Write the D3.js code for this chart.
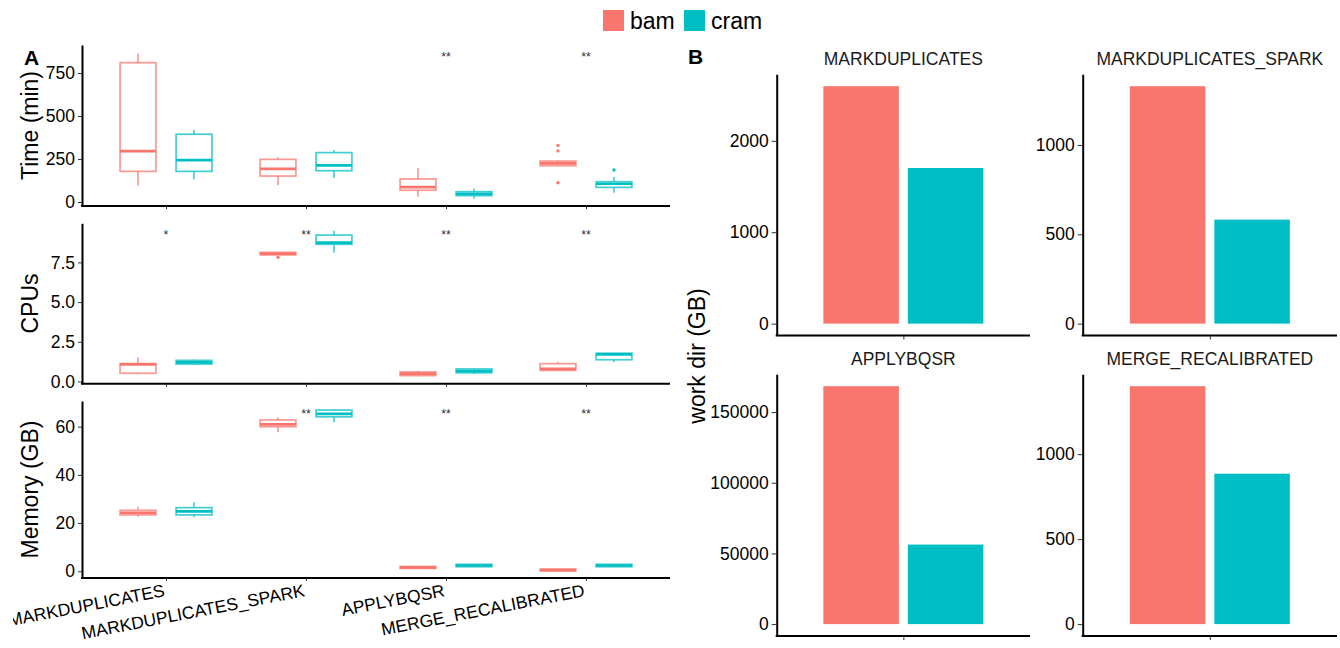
<!DOCTYPE html>
<html>
<head>
<meta charset="utf-8">
<script src="https://cdn.jsdelivr.net/npm/d3@7"></script>
<style>
  body { margin: 0; background: #fff; }
  svg { font-family: "Liberation Sans", Arial, Helvetica, sans-serif; }
  .axis .domain { stroke: #000; stroke-width: 2px; }
  .axis .tick line { stroke: #333; stroke-width: 1px; }
  .axis .tick text { fill: #000; font-size: 17.5px; }
</style>
</head>
<body>
<div id="chart"></div>
<script>
// groups and colours (ggplot default hues)
var groups = ["bam", "cram"];
var groupColors = ["#F8766D", "#00BFC4"];
var steps = ["MARKDUPLICATES", "MARKDUPLICATES_SPARK", "APPLYBQSR", "MERGE_RECALIBRATED"];

// box stats: [lower whisker, Q1, median, Q3, upper whisker]
var timeBam = [[95, 178, 296, 810, 864], [97, 151, 192, 248, 260], [31, 68, 87, 134, 198], [207, 211, 225, 238, 242]];
var timeCram = [[132, 178, 244, 394, 419], [140, 182, 213, 287, 302], [19, 37, 47, 60, 77], [54, 85, 106, 118, 145]];
var timeBamOutliers = [[], [], [], [112, 297, 329]];
var timeCramOutliers = [[], [], [], [186]];
var timeStars = ["", "", "**", "**"];
var timeTicks = [0, 250, 500, 750];

var cpuBam = [[0.45, 0.52, 1.08, 1.13, 1.52], [7.97, 7.97, 8.05, 8.13, 8.15], [0.33, 0.37, 0.5, 0.6, 0.68], [0.66, 0.7, 0.8, 1.12, 1.25]];
var cpuCram = [[1.05, 1.1, 1.2, 1.33, 1.38], [8.11, 8.64, 8.74, 9.22, 9.5], [0.47, 0.55, 0.65, 0.79, 0.8], [1.21, 1.37, 1.71, 1.78, 1.8]];
var cpuBamOutliers = [[], [7.82], [], []];
var cpuCramOutliers = [[], [], [], []];
var cpuStars = ["*", "**", "**", "**"];
var cpuTicks = [0, 2.5, 5, 7.5];

var memBam = [[22.7, 23.4, 24.3, 25.3, 26.8], [57.7, 60.0, 61.0, 62.8, 63.9], [1.1, 1.2, 1.6, 2.0, 2.1], [0.1, 0.2, 0.5, 0.9, 1.0]];
var memCram = [[22.4, 23.4, 24.9, 26.4, 28.6], [61.8, 64.1, 65.3, 66.9, 67.3], [1.8, 1.9, 2.4, 2.9, 3.0], [1.8, 1.9, 2.4, 2.9, 3.0]];
var memBamOutliers = [[], [], [], []];
var memCramOutliers = [[], [], [], []];
var memStars = ["", "**", "**", "**"];
var memTicks = [0, 20, 40, 60];

// panel B: work dir size (GB)
var workBam = [2598, 1329, 168300, 1400];
var workCram = [1703, 582, 56260, 885];
var workTicks = [[0, 1000, 2000], [0, 500, 1000], [0, 50000, 100000, 150000], [0, 500, 1000]];

var W = 1340, H = 648;

var svg = d3.select("#chart").append("svg")
  .attr("width", W)
  .attr("height", H);

// ---------- legend ----------
var legend = svg.append("g").attr("class", "legend");
var legendX = [603, 684];
groups.forEach(function (g, i) {
  legend.append("rect")
    .attr("x", legendX[i]).attr("y", 10)
    .attr("width", 21).attr("height", 21)
    .attr("fill", groupColors[i]);
  legend.append("text")
    .attr("x", legendX[i] + 27).attr("y", 28.5)
    .attr("font-size", 23)
    .text(g);
});

// ---------- panel A: boxplots ----------
var aLeft = 82, aRight = 670;

svg.append("clipPath").attr("id", "clipA")
  .append("rect").attr("x", 13).attr("y", 0).attr("width", 670).attr("height", H);

var panelA = svg.append("g").attr("clip-path", "url(#clipA)");

var x = d3.scalePoint()
  .domain(steps)
  .range([aLeft, aRight])
  .padding(0.6);

var dodge = d3.scaleBand()
  .domain(groups)
  .range([-56, 56]);

var boxW = dodge.bandwidth() * 0.64;

var panels = [
  { title: "Time (min)", bam: timeBam, cram: timeCram, outBam: timeBamOutliers, outCram: timeCramOutliers,
    stars: timeStars, starY: 855, ticks: timeTicks, top: 45, bottom: 206, domain: [-23.3, 912.8], labels: false },
  { title: "CPUs", bam: cpuBam, cram: cpuCram, outBam: cpuBamOutliers, outCram: cpuCramOutliers,
    stars: cpuStars, starY: 9.37, ticks: cpuTicks, top: 223.3, bottom: 383.7, domain: [-0.139, 9.962], labels: false },
  { title: "Memory (GB)", bam: memBam, cram: memCram, outBam: memBamOutliers, outCram: memCramOutliers,
    stars: memStars, starY: 66.5, ticks: memTicks, top: 401, bottom: 578, domain: [-2.78, 70.66], labels: true }
];

panels.forEach(function (p) {
  var y = d3.scaleLinear().domain(p.domain).range([p.bottom, p.top]);

  var rows = [];
  steps.forEach(function (s, i) {
    rows.push({ step: s, group: "bam", color: groupColors[0], s: p.bam[i], out: p.outBam[i] });
    rows.push({ step: s, group: "cram", color: groupColors[1], s: p.cram[i], out: p.outCram[i] });
  });

  var box = panelA.append("g").selectAll(".box")
    .data(rows)
    .enter().append("g")
    .attr("class", "box")
    .attr("transform", function (d) {
      return "translate(" + (x(d.step) + dodge(d.group) + dodge.bandwidth() / 2) + ",0)";
    });

  // whiskers
  box.append("line")
    .attr("y1", function (d) { return y(d.s[3]); })
    .attr("y2", function (d) { return y(d.s[4]); })
    .attr("stroke", function (d) { return d.color; })
    .attr("stroke-width", 1.2);
  box.append("line")
    .attr("y1", function (d) { return y(d.s[1]); })
    .attr("y2", function (d) { return y(d.s[0]); })
    .attr("stroke", function (d) { return d.color; })
    .attr("stroke-width", 1.2);

  // box
  box.append("rect")
    .attr("x", -boxW / 2)
    .attr("width", boxW)
    .attr("y", function (d) { return y(d.s[3]); })
    .attr("height", function (d) { return y(d.s[1]) - y(d.s[3]); })
    .attr("fill", "#fff")
    .attr("stroke", function (d) { return d.color; })
    .attr("stroke-opacity", 0.75)
    .attr("stroke-width", 1.7);

  // median
  box.append("line")
    .attr("x1", -boxW / 2).attr("x2", boxW / 2)
    .attr("y1", function (d) { return y(d.s[2]); })
    .attr("y2", function (d) { return y(d.s[2]); })
    .attr("stroke", function (d) { return d.color; })
    .attr("stroke-width", 2.7);

  // outliers
  box.selectAll("circle")
    .data(function (d) { return d.out.map(function (v) { return { v: v, color: d.color }; }); })
    .enter().append("circle")
    .attr("r", 1.7)
    .attr("cy", function (o) { return y(o.v); })
    .attr("fill", function (o) { return o.color; });

  // significance stars
  panelA.append("g").selectAll("text")
    .data(p.stars)
    .enter().append("text")
    .attr("x", function (d, i) { return x(steps[i]); })
    .attr("y", y(p.starY))
    .attr("dy", 6.5)
    .attr("text-anchor", "middle")
    .attr("font-size", 12.5)
    .attr("fill", "#333")
    .text(function (d) { return d; });

  // axes
  var yAxis = d3.axisLeft(y).tickValues(p.ticks).tickSize(4).tickSizeOuter(0).tickPadding(3)
    .tickFormat(p.ticks[1] === 2.5 ? d3.format(".1f") : d3.format("d"));
  panelA.append("g")
    .attr("class", "axis")
    .attr("transform", "translate(" + aLeft + ",0)")
    .call(yAxis);

  var xAxis = d3.axisBottom(x).tickSize(3).tickSizeOuter(0);
  var xg = panelA.append("g")
    .attr("class", "axis")
    .attr("transform", "translate(0," + p.bottom + ")")
    .call(xAxis);
  xg.select(".domain").attr("d", "M" + (aLeft - 1) + ",0H" + aRight);
  if (p.labels) {
    xg.selectAll(".tick text")
      .attr("y", 0).attr("dy", 0)
      .attr("text-anchor", "end")
      .attr("transform", "translate(-1,18) rotate(-11)");
  } else {
    xg.selectAll(".tick text").remove();
  }

  // y title
  panelA.append("text")
    .attr("transform", "translate(38," + ((p.top + p.bottom) / 2) + ") rotate(-90)")
    .attr("text-anchor", "middle")
    .attr("font-size", 23)
    .text(p.title);
});

svg.append("text")
  .attr("x", 24).attr("y", 65)
  .attr("font-size", 21).attr("font-weight", "bold")
  .text("A");

// ---------- panel B: bar facets ----------
var facetCols = [[776.7, 1030], [1082.7, 1337]];
var facetRows = [[74.3, 335.5], [374.3, 636]];

steps.forEach(function (step, i) {
  var col = facetCols[i % 2], row = facetRows[Math.floor(i / 2)];
  var vals = [workBam[i], workCram[i]];
  var max = d3.max(vals);
  var center = (col[0] + col[1]) / 2;

  var y = d3.scaleLinear()
    .domain([-0.05 * max, 1.05 * max])
    .range([row[1], row[0]]);

  var xb = d3.scaleBand()
    .domain(groups)
    .range([center - 80, center + 80])
    .paddingInner(0.106);

  var g = svg.append("g");

  g.selectAll(".bar")
    .data(vals)
    .enter().append("rect")
    .attr("class", "bar")
    .attr("x", function (d, k) { return xb(groups[k]); })
    .attr("width", xb.bandwidth())
    .attr("y", function (d) { return y(d); })
    .attr("height", function (d) { return y(0) - y(d); })
    .attr("fill", function (d, k) { return groupColors[k]; });

  g.append("g")
    .attr("class", "axis")
    .attr("transform", "translate(" + col[0] + ",0)")
    .call(d3.axisLeft(y).tickValues(workTicks[i]).tickSize(5).tickSizeOuter(0).tickPadding(3).tickFormat(d3.format("d")));

  var fx = d3.scalePoint().domain([step]).range([col[0], col[1]]).padding(0.5);
  var xg = g.append("g")
    .attr("class", "axis")
    .attr("transform", "translate(0," + row[1] + ")")
    .call(d3.axisBottom(fx).tickSize(4).tickSizeOuter(0));
  xg.selectAll(".tick text").remove();
  xg.select(".domain").attr("d", "M" + (col[0] - 1) + ",0H" + col[1]);

  g.append("text")
    .attr("x", center).attr("y", row[0] - 9)
    .attr("text-anchor", "middle")
    .attr("font-size", 17.5)
    .attr("fill", "#1a1a1a")
    .text(step);
});

svg.append("text")
  .attr("transform", "translate(705,356) rotate(-90)")
  .attr("text-anchor", "middle")
  .attr("font-size", 23)
  .text("work dir (GB)");

svg.append("text")
  .attr("x", 688).attr("y", 64)
  .attr("font-size", 21).attr("font-weight", "bold")
  .text("B");
</script>
</body>
</html>
